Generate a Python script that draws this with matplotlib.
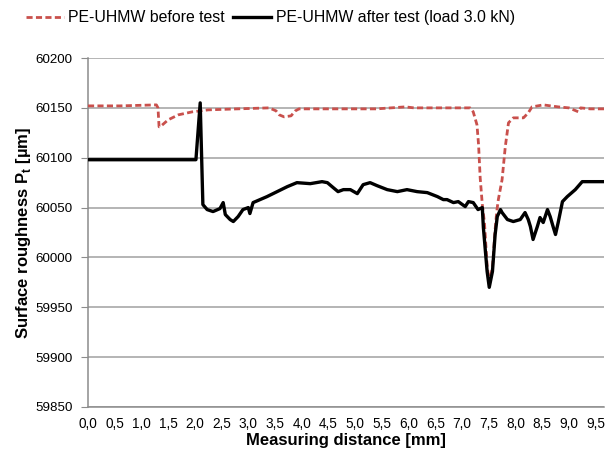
import matplotlib
matplotlib.use("Agg")
import matplotlib.pyplot as plt

plt.rcParams["font.family"] = ["Liberation Sans", "DejaVu Sans"]
plt.rcParams["mathtext.fontset"] = "custom"
plt.rcParams["mathtext.rm"] = "Liberation Sans"
plt.rcParams["mathtext.bf"] = "Liberation Sans:bold"

# ---- data (distance in mm, Pt in um) ----
before_x = [0.00, 0.60, 1.28, 1.31, 1.33, 1.35, 1.50, 1.69, 1.95, 2.25, 2.80, 3.39,
            3.52, 3.58, 3.67, 3.80, 3.88, 3.95, 4.60, 5.40, 5.94, 6.10, 6.80, 7.15,
            7.21, 7.28, 7.31, 7.34, 7.38, 7.42, 7.47, 7.51, 7.57, 7.62, 7.65, 7.68, 7.75,
            7.81, 7.87, 7.96, 8.15, 8.24, 8.31, 8.52, 8.80, 9.00, 9.18, 9.22, 9.40, 9.66]
before_y = [60152, 60152, 60153, 60150, 60131, 60131, 60138, 60143, 60146, 60148, 60149, 60150,
            60147, 60143, 60141, 60142, 60147, 60149, 60149, 60149, 60151, 60150, 60150, 60150,
            60146, 60133, 60113, 60080, 60053, 60035, 59992, 59975, 59990, 60028, 60046, 60058, 60078,
            60111, 60135, 60140, 60140, 60145, 60151, 60153, 60151, 60150, 60146, 60150, 60149, 60149]

after_x = [0.00, 1.16, 2.02, 2.10, 2.15, 2.23, 2.34, 2.47, 2.53, 2.57, 2.66, 2.72,
           2.81, 2.90, 3.00, 3.03, 3.09, 3.35, 3.54, 3.73, 3.91, 4.16, 4.38, 4.48,
           4.59, 4.68, 4.78, 4.91, 5.04, 5.15, 5.28, 5.41, 5.60, 5.79, 5.97, 6.16,
           6.35, 6.54, 6.65, 6.72, 6.84, 6.93, 7.06, 7.12, 7.21, 7.30, 7.38, 7.40,
           7.47, 7.51, 7.57, 7.62, 7.66, 7.72, 7.75, 7.85, 7.96, 8.09, 8.18, 8.24,
           8.28, 8.33, 8.41, 8.46, 8.52, 8.60, 8.65, 8.71, 8.75, 8.80, 8.88, 8.97,
           9.12, 9.25, 9.66]
after_y = [60098, 60098, 60098, 60155, 60053, 60048, 60046, 60049, 60055, 60043, 60038, 60036,
           60041, 60048, 60050, 60044, 60055, 60061, 60066, 60071, 60075, 60074, 60076, 60075,
           60070, 60066, 60068, 60068, 60064, 60073, 60075, 60072, 60068, 60066, 60068, 60066,
           60065, 60061, 60058, 60058, 60055, 60056, 60051, 60056, 60055, 60048, 60050, 60030,
           59986, 59970, 59986, 60023, 60041, 60048, 60045, 60038, 60036, 60038, 60045, 60038,
           60031, 60018, 60031, 60040, 60035, 60048, 60041, 60030, 60023, 60035, 60056, 60061,
           60068, 60076, 60076]

x_ticks = [i * 0.5 for i in range(20)]
x_labels = [f"{t:.1f}".replace(".", ",") for t in x_ticks]
y_ticks = list(range(59850, 60201, 50))

fig = plt.figure(figsize=(6.09, 4.59), dpi=100)
ax = fig.add_axes([0.1445, 0.1133, 0.8475, 0.7603])

red = "#c9504c"
ax.plot(before_x, before_y, color=red, lw=2.0, ls=(0, (2.2, 1.2)),
        label="PE-UHMW before test", zorder=3)
ax.plot(after_x, after_y, color="black", lw=2.4,
        label="PE-UHMW after test (load 3.0 kN)", zorder=4)

ax.set_xlim(0, 9.66)
ax.set_ylim(59850, 60200)
ax.set_yticks(y_ticks)
ax.set_xticks(x_ticks)
ax.set_xticklabels(x_labels)
ax.tick_params(axis="y", labelsize=9.6, length=5, color="#8c8c8c", pad=6)
ax.tick_params(axis="x", labelsize=9.8, length=0, pad=7)
ax.grid(axis="y", color="#a0a0a0", lw=1.1, zorder=0)
ax.set_axisbelow(True)
for s in ("top", "right"):
    ax.spines[s].set_visible(False)
for s in ("left", "bottom"):
    ax.spines[s].set_color("#8c8c8c")
    ax.spines[s].set_linewidth(1.1)

ax.set_xlabel("Measuring distance [mm]", fontsize=12, fontweight="bold", labelpad=2)
ax.set_ylabel(r"Surface roughness P$_\mathbf{t}$ [µm]", fontsize=12,
              fontweight="bold", labelpad=2)

fig.legend(loc="upper left", bbox_to_anchor=(0.025, 1.0), ncol=2, frameon=False,
           fontsize=11.4, handlelength=2.4, handletextpad=0.3, columnspacing=0.5,
           borderaxespad=0.25)

fig.savefig("out.png", dpi=100, facecolor="white")
